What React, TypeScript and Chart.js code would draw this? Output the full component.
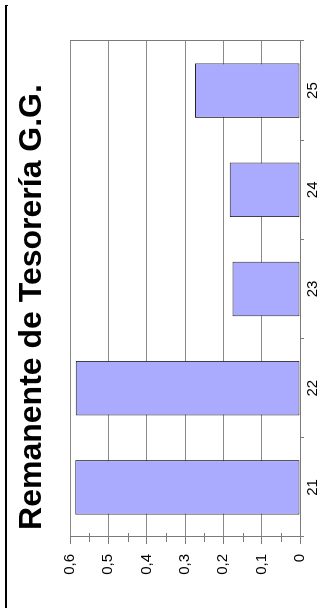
import React, { useEffect, useRef } from 'react';
import { Chart, registerables } from 'chart.js';

Chart.register(...registerables);

const titleText = 'Remanente de Tesorería G.G.';
const categories = ['21', '22', '23', '24', '25'];
const values = [0.586, 0.585, 0.176, 0.183, 0.274];
const yTickValues = [0, 0.1, 0.2, 0.3, 0.4, 0.5, 0.6];
const yTickLabels = ['0', '0,1', '0,2', '0,3', '0,4', '0,5', '0,6'];
const yMinorValues = [0.05, 0.15, 0.25, 0.35, 0.45, 0.55];

const FONT = '"Liberation Sans", Arial, Helvetica, sans-serif';
const GRID = '#8a8a8a';
const FRAME = '#7a7a7a';

const minorTickPlugin = {
  id: 'minorTicks',
  afterDraw(chart: any) {
    const s = chart.scales.y;
    const ctx = chart.ctx;
    ctx.save();
    ctx.strokeStyle = FRAME;
    ctx.lineWidth = 1;
    yMinorValues.forEach((v) => {
      const y = Math.round(s.getPixelForValue(v)) + 0.5;
      ctx.beginPath();
      ctx.moveTo(s.right - 5, y);
      ctx.lineTo(s.right + 4, y);
      ctx.stroke();
    });
    ctx.restore();
  },
};

export default function App() {
  const ref = useRef<HTMLCanvasElement | null>(null);

  useEffect(() => {
    if (!ref.current) return;
    const chart = new Chart(ref.current, {
      type: 'bar',
      data: {
        labels: categories,
        datasets: [
          {
            data: values,
            backgroundColor: '#aaaaff',
            borderColor: '#262626',
            borderWidth: 1,
            borderSkipped: false,
            barPercentage: 0.55,
            categoryPercentage: 1,
          },
        ],
      },
      options: {
        animation: false,
        responsive: false,
        devicePixelRatio: 1,
        layout: { padding: { left: 0, right: 6, top: 0, bottom: 0 } },
        plugins: {
          legend: { display: false },
          tooltip: { enabled: false },
          title: {
            display: true,
            text: titleText,
            color: '#000',
            font: { family: FONT, size: 32, weight: 'bold' },
            padding: { top: 13, bottom: 18.6 },
          },
        },
        scales: {
          x: {
            type: 'category',
            afterFit: (s: any) => {
              s.height = 34;
            },
            grid: {
              display: true,
              offset: true,
              drawOnChartArea: false,
              tickLength: 4,
              color: FRAME,
            },
            border: { display: true, color: FRAME },
            ticks: {
              color: '#000',
              font: { family: FONT, size: 15 },
              padding: 0,
              maxRotation: 0,
            },
          },
          y: {
            type: 'linear',
            position: 'left',
            min: 0,
            max: 0.6,
            afterFit: (s: any) => {
              s.width = 71;
            },
            afterBuildTicks: (s: any) => {
              s.ticks = yTickValues.map((v) => ({ value: v }));
            },
            grid: {
              color: GRID,
              tickColor: FRAME,
              tickLength: 7,
            },
            border: { display: true, color: FRAME },
            ticks: {
              color: '#000',
              font: { family: FONT, size: 15 },
              padding: 10,
              callback: (_v: any, i: number) => yTickLabels[i],
            },
          },
          y2: {
            type: 'linear',
            position: 'right',
            min: 0,
            max: 0.6,
            afterFit: (s: any) => {
              s.width = 35;
            },
            grid: { display: false, drawTicks: false },
            border: { display: true, color: FRAME },
            ticks: { display: false },
          },
        },
      },
      plugins: [minorTickPlugin],
    });
    return () => chart.destroy();
  }, []);

  return (
    <div
      style={{
        position: 'fixed',
        left: 0,
        top: 0,
        width: 334,
        height: 608,
        overflow: 'hidden',
        background: '#fff',
      }}
    >
      <div style={{ position: 'absolute', left: 5, top: 5, width: 2, height: 603, background: '#000' }} />
      <div style={{ position: 'absolute', left: 5, top: 5, width: 3, height: 1, background: '#000' }} />
      <div
        style={{
          position: 'absolute',
          left: 0,
          top: 0,
          width: 608,
          height: 334,
          transformOrigin: '0 0',
          transform: 'translateY(608px) rotate(-90deg)',
        }}
      >
        <canvas ref={ref} width={608} height={334} style={{ display: 'block', width: 608, height: 334 }} />
      </div>
    </div>
  );
}
